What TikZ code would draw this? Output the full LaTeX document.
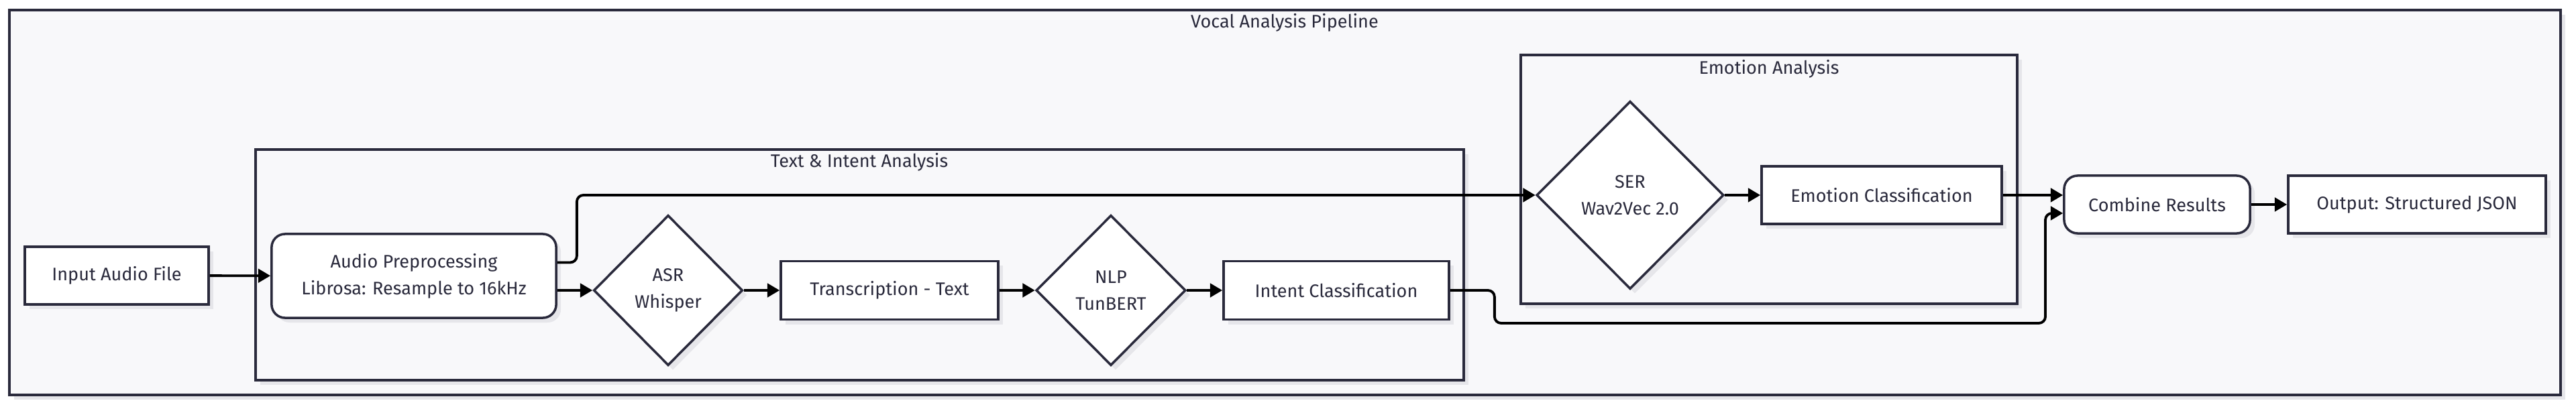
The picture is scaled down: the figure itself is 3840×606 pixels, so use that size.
\documentclass[tikz,border=0pt]{standalone}
\usepackage{fontspec}
\setmainfont{Fira Sans}
\usetikzlibrary{%
  arrows.meta,%
  shapes.geometric,%
  shadows,%
}

\definecolor{inkline}{HTML}{2A2A3C}
\definecolor{panelbg}{HTML}{F8F8FA}
\definecolor{shade}{HTML}{E6E6EA}

\tikzset{
  dropshade/.style={drop shadow={shadow xshift=0.07cm, shadow yshift=-0.07cm,
      fill=shade, opacity=1}},
  frame/.style={draw=inkline, line width=1.1pt, fill=panelbg, dropshade},
  boxnode/.style={draw=inkline, line width=1pt, fill=white, dropshade,
      align=center, inner sep=0pt},
  roundnode/.style={boxnode, rounded corners=0.2cm},
  decide/.style={diamond, draw=inkline, line width=1pt, fill=white, dropshade,
      align=center, inner sep=0pt},
  link/.style={-{Triangle[length=5.2pt, width=5.8pt]}, line width=1.1pt,
      rounded corners=2.8pt},
}

\begin{document}
\begin{tikzpicture}[x=0.01cm, y=-0.01cm, font=\fontsize{7.7}{11.4}\selectfont,
    text=inkline]

      \useasboundingbox (0, 0) rectangle (3840, 606);

      \draw [frame] (14, 15) rectangle (3817, 589);
      \node (pipetitle) at (1915, 34) {Vocal Analysis Pipeline};

      \draw [frame] (381, 223) rectangle (2182, 567);
      \node (texttitle) at (1281, 242) {Text \& Intent Analysis};

      \draw [frame] (2267, 82) rectangle (3007, 453);
      \node (emotitle) at (2637, 103) {Emotion Analysis};

      \node [boxnode, minimum width=2.74cm, minimum height=0.86cm]
        (input) at (174, 411) {Input Audio File};

      \node [roundnode, minimum width=4.24cm, minimum height=1.25cm]
        (preproc) at (617, 411.5)
        {Audio Preprocessing \\ Librosa: Resample to 16kHz};

      \node [decide, minimum width=2.22cm, minimum height=2.24cm]
        (asr) at (996, 433) {ASR \\ Whisper};

      \node [boxnode, minimum width=3.24cm, minimum height=0.87cm]
        (transcript) at (1326, 433) {Transcription - Text};

      \node [decide, minimum width=2.23cm, minimum height=2.24cm]
        (nlp) at (1656, 433) {NLP \\ TunBERT};

      \node [boxnode, minimum width=3.36cm, minimum height=0.87cm]
        (intent) at (1992, 433) {Intent Classification};

      \node [decide, minimum width=2.79cm, minimum height=2.8cm]
        (ser) at (2430, 291) {SER \\ Wav2Vec 2.0};

      \node [boxnode, minimum width=3.58cm, minimum height=0.86cm]
        (emoclass) at (2805, 291) {Emotion Classification};

      \node [roundnode, minimum width=2.77cm, minimum height=0.86cm]
        (combine) at (3215.5, 305) {Combine Results};

      \node [boxnode, minimum width=3.84cm, minimum height=0.86cm]
        (output) at (3603, 305) {Output: Structured JSON};

      \coordinate (lowjoin) at (3049, 482);

      \draw [link] (input) -- (preproc);
      \draw [link] ([yshift=2mm]preproc.east) -- ++(29, 0) |- (ser.west);
      \draw [link] (preproc.east |- asr.west) -- (asr);
      \draw [link] (asr) -- (transcript);
      \draw [link] (transcript) -- (nlp);
      \draw [link] (nlp) -- (intent);
      \draw [link] (ser) -- (emoclass);
      \draw [link] (emoclass.east) -- (emoclass.east -| combine.west);
      \draw [link] (intent.east) -- ++(66, 0) |- (lowjoin)
        |- ([yshift=-1.3mm]combine.west);
      \draw [link] (combine) -- (output);

    \end{tikzpicture}
\end{document}
